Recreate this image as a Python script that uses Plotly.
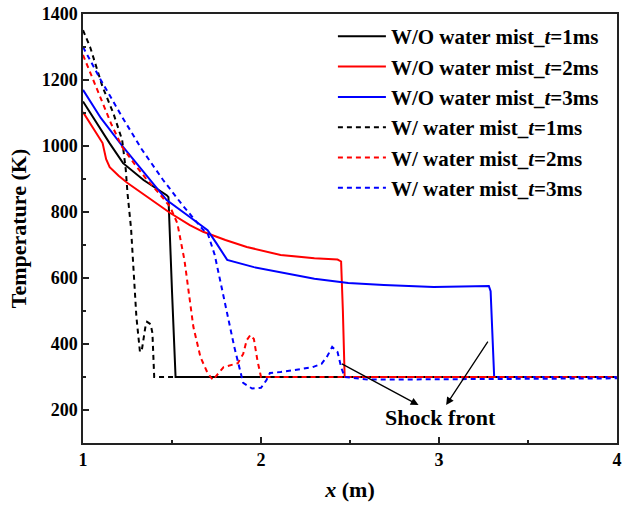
import plotly.graph_objects as go

# ---- data ----
x_wo_1 = [1.0, 1.04, 1.08, 1.15, 1.225, 1.34, 1.47, 1.48, 1.50, 1.52, 1.6, 4.0]
t_wo_1 = [1135, 1100, 1069, 1008, 948, 897, 851, 845, 560, 300, 300, 300]

x_wo_2 = [1.0, 1.05, 1.11, 1.13, 1.15, 1.2, 1.25, 1.35, 1.49, 1.6, 1.675, 1.8, 1.92, 2.11, 2.3, 2.43, 2.45, 2.46, 2.47, 4.0]
t_wo_2 = [1103, 1060, 1009, 960, 936, 910, 888, 850, 797, 760, 740, 715, 694, 670, 660, 656, 650, 500, 300, 300]

x_wo_3 = [1.0, 1.1, 1.225, 1.35, 1.47, 1.6, 1.70, 1.75, 1.78, 1.81, 1.96, 2.11, 2.3, 2.49, 2.69, 2.97, 3.15, 3.28, 3.29, 3.31, 4.0]
t_wo_3 = [1170, 1085, 997, 915, 836, 785, 745, 705, 680, 655, 633, 618, 598, 585, 579, 573, 575, 576, 560, 300, 300]

x_w_1 = [1.0, 1.04, 1.11, 1.17, 1.22, 1.24, 1.25, 1.27, 1.28, 1.30, 1.32, 1.33, 1.35, 1.36, 1.38, 1.39, 1.40, 4.0]
t_w_1 = [1351, 1300, 1179, 1100, 1018, 930, 857, 750, 660, 482, 376, 380, 450, 467, 460, 433, 300, 300]

x_w_2 = [1.0, 1.05, 1.10, 1.16, 1.22, 1.29, 1.36, 1.43, 1.49, 1.53, 1.57, 1.62, 1.66, 1.70, 1.73, 1.76, 1.79, 1.87, 1.90, 1.92, 1.94, 1.96, 1.98, 2.00, 4.0]
t_w_2 = [1276, 1210, 1139, 1065, 997, 945, 897, 855, 815, 766, 654, 452, 360, 312, 291, 310, 330, 342, 370, 412, 427, 415, 350, 300, 300]

x_w_3 = [1.0, 1.05, 1.10, 1.22, 1.33, 1.45, 1.56, 1.675, 1.70, 1.74, 1.77, 1.81, 1.85, 1.90, 1.95, 2.00, 2.03, 2.05, 2.11, 2.2, 2.29, 2.34, 2.37, 2.40, 2.43, 2.45, 2.47, 2.6, 3.0, 4.0]
t_w_3 = [1300, 1250, 1200, 1088, 990, 897, 820, 746, 736, 670, 594, 490, 391, 282, 265, 267, 290, 312, 315, 322, 330, 340, 361, 391, 376, 330, 300, 292, 293, 296]

series = [
    ("W/O water mist_<i>t</i>=1ms", x_wo_1, t_wo_1, "#000000", "solid"),
    ("W/O water mist_<i>t</i>=2ms", x_wo_2, t_wo_2, "#ff0000", "solid"),
    ("W/O water mist_<i>t</i>=3ms", x_wo_3, t_wo_3, "#0000ff", "solid"),
    ("W/ water mist_<i>t</i>=1ms", x_w_1, t_w_1, "#000000", "5px,4px"),
    ("W/ water mist_<i>t</i>=2ms", x_w_2, t_w_2, "#ff0000", "5px,4px"),
    ("W/ water mist_<i>t</i>=3ms", x_w_3, t_w_3, "#0000ff", "5px,4px"),
]

x_ticks = [1, 2, 3, 4]
y_ticks = [200, 400, 600, 800, 1000, 1200, 1400]

FONT = "Liberation Serif, Times New Roman, serif"

fig = go.Figure()
for name, xs, ts, col, dash in series:
    fig.add_trace(go.Scatter(
        x=xs, y=ts, mode="lines", name="<b>" + name + "</b>",
        line=dict(color=col, width=2, dash=dash),
    ))

axis_common = dict(
    showline=True, linecolor="#222222", linewidth=1.5, mirror=True,
    ticks="inside", ticklen=6, tickwidth=1.5, tickcolor="#222222",
    showgrid=False, zeroline=False, automargin=False,
    tickfont=dict(family=FONT, size=18, color="black"),
)

fig.update_xaxes(
    range=[1, 4], tickvals=x_ticks, ticktext=[f"<b>{v}</b>" for v in x_ticks],
    minor=dict(ticks="inside", ticklen=3, tickwidth=1.5, tickcolor="#222222", dtick=0.5, tick0=1),
    title=dict(text="<b><i>x</i> (m)</b>", font=dict(family=FONT, size=22, color="black"), standoff=12),
    **axis_common,
)
fig.update_yaxes(
    range=[100, 1400], tickvals=y_ticks, ticktext=[f"<b>{v}</b>" for v in y_ticks],
    minor=dict(ticks="inside", ticklen=3, tickwidth=1.5, tickcolor="#222222", dtick=100, tick0=100),
    title=dict(text="<b>Temperature (K)</b>", font=dict(family=FONT, size=22, color="black"), standoff=9),
    **axis_common,
)

# annotations: shock front
fig.add_annotation(x=3.01, y=176, xref="x", yref="y", text="<b>Shock front</b>",
                   showarrow=False, font=dict(family=FONT, size=22, color="black"))
fig.add_annotation(x=2.885, y=215, ax=2.446, ay=342, xref="x", yref="y", axref="x", ayref="y",
                   text="", showarrow=True, arrowhead=2, arrowsize=1.2, arrowwidth=1.3, arrowcolor="black")
fig.add_annotation(x=3.04, y=215, ax=3.28, ay=412, xref="x", yref="y", axref="x", ayref="y",
                   text="", showarrow=True, arrowhead=2, arrowsize=1.2, arrowwidth=1.3, arrowcolor="black")

fig.update_layout(
    width=628, height=510,
    margin=dict(l=83, r=11, t=14, b=67, autoexpand=False),
    paper_bgcolor="white", plot_bgcolor="white",
    font=dict(family=FONT, color="black"),
    legend=dict(
        x=0.468, y=0.995, xanchor="left", yanchor="top",
        bgcolor="rgba(0,0,0,0)", borderwidth=0,
        font=dict(family=FONT, size=21, color="black"),
        itemwidth=48,
    ),
    showlegend=True,
)

fig.write_html("out.html", config={"displayModeBar": False},
               post_script="document.body.style.margin='0';document.body.style.overflow='hidden';")
